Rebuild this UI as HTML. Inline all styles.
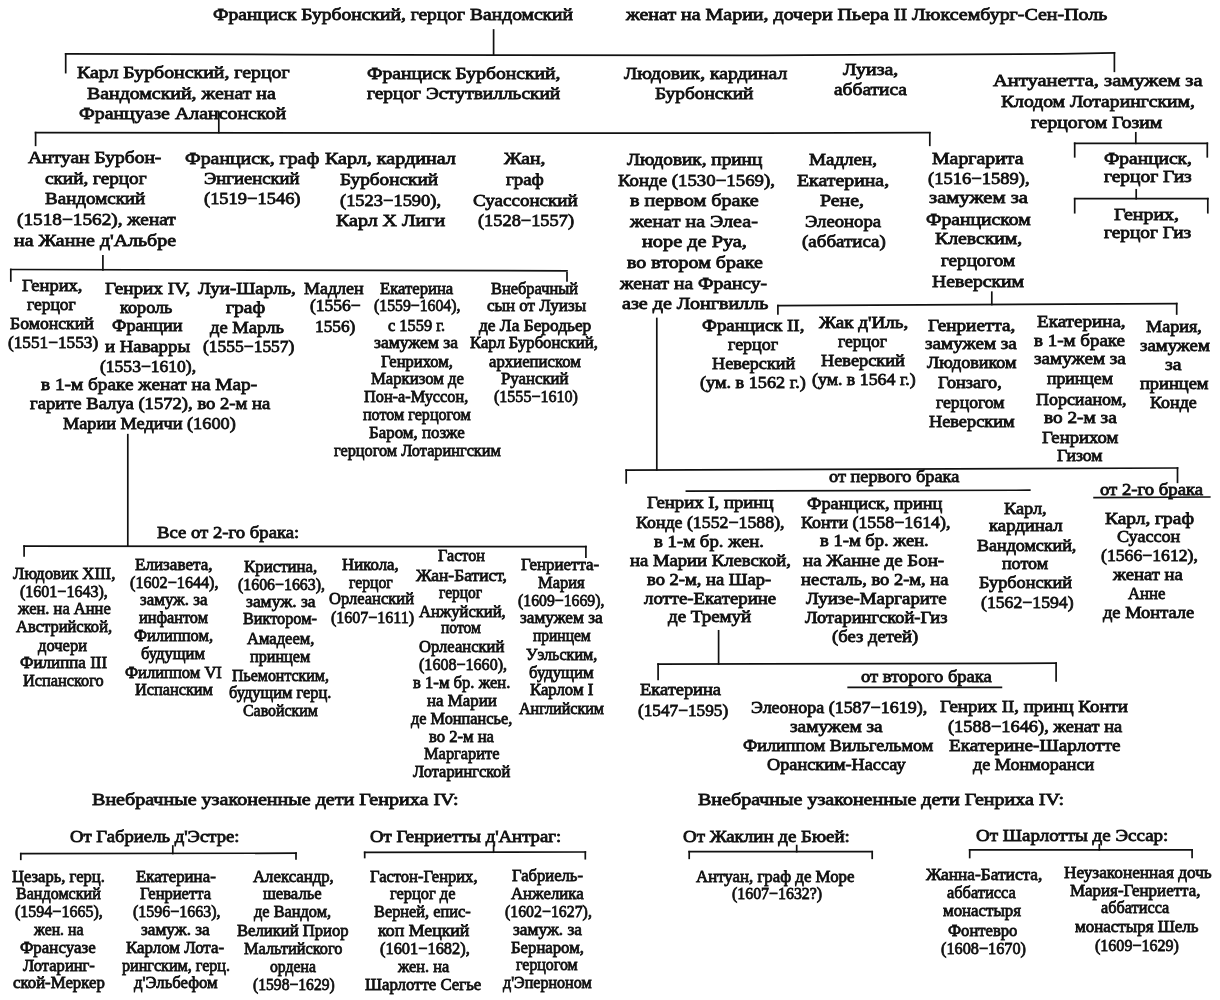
<!DOCTYPE html>
<html lang="ru"><head><meta charset="utf-8"><title>Бурбоны</title>
<style>
html,body{margin:0;padding:0;background:#fff;}
body{width:1220px;height:1000px;position:relative;overflow:hidden;filter:grayscale(1);}
.t{position:absolute;white-space:nowrap;font:normal 17.2px/20px 'Liberation Serif', serif;color:#111;transform-origin:0 0;-webkit-text-stroke:0.8px #111;}
svg{position:absolute;left:0;top:0;}
</style></head><body>
<div class="t" style="left:212.75px;top:5.30px;transform:scaleX(1.1373)">Франциск Бурбонский, герцог Вандомский</div>
<div class="t" style="left:626.02px;top:4.50px;transform:scaleX(1.1606)">женат на Марии, дочери Пьера II Люксембург-Сен-Поль</div>
<div class="t" style="left:76.66px;top:62.50px;transform:scaleX(1.1548)">Карл Бурбонский, герцог</div>
<div class="t" style="left:86.86px;top:83.60px;transform:scaleX(1.1548)">Вандомский, женат на</div>
<div class="t" style="left:79.26px;top:103.90px;transform:scaleX(1.1567)">Француазе Алансонской</div>
<div class="t" style="left:367.06px;top:63.60px;transform:scaleX(1.1405)">Франциск Бурбонский,</div>
<div class="t" style="left:367.05px;top:84.00px;transform:scaleX(1.1284)">герцог Эстутвилльский</div>
<div class="t" style="left:623.86px;top:63.60px;transform:scaleX(1.1428)">Людовик, кардинал</div>
<div class="t" style="left:655.05px;top:84.00px;transform:scaleX(1.1243)">Бурбонский</div>
<div class="t" style="left:843.16px;top:59.80px;transform:scaleX(1.1588)">Луиза,</div>
<div class="t" style="left:833.75px;top:80.00px;transform:scaleX(1.1302)">аббатиса</div>
<div class="t" style="left:993.08px;top:71.30px;transform:scaleX(1.1924)">Антуанетта, замужем за</div>
<div class="t" style="left:1000.66px;top:92.30px;transform:scaleX(1.1424)">Клодом Лотарингским,</div>
<div class="t" style="left:1031.16px;top:112.70px;transform:scaleX(1.1426)">герцогом Гозим</div>
<div class="t" style="left:28.45px;top:148.10px;transform:scaleX(1.1373)">Антуан Бурбон-</div>
<div class="t" style="left:44.95px;top:169.00px;transform:scaleX(1.1178)">ский, герцог</div>
<div class="t" style="left:44.94px;top:189.30px;transform:scaleX(1.1069)">Вандомский</div>
<div class="t" style="left:16.95px;top:210.40px;transform:scaleX(1.1200)">(1518−1562), женат</div>
<div class="t" style="left:13.66px;top:230.70px;transform:scaleX(1.1601)">на Жанне д'Альбре</div>
<div class="t" style="left:184.66px;top:148.50px;transform:scaleX(1.1535)">Франциск, граф</div>
<div class="t" style="left:203.73px;top:169.00px;transform:scaleX(1.0847)">Энгиенский</div>
<div class="t" style="left:203.73px;top:189.30px;transform:scaleX(1.0737)">(1519−1546)</div>
<div class="t" style="left:324.77px;top:149.40px;transform:scaleX(1.1677)">Карл, кардинал</div>
<div class="t" style="left:340.45px;top:169.70px;transform:scaleX(1.1198)">Бурбонский</div>
<div class="t" style="left:340.03px;top:190.80px;transform:scaleX(1.0730)">(1523−1590),</div>
<div class="t" style="left:335.66px;top:211.10px;transform:scaleX(1.1617)">Карл X Лиги</div>
<div class="t" style="left:503.96px;top:149.40px;transform:scaleX(1.1449)">Жан,</div>
<div class="t" style="left:505.94px;top:169.70px;transform:scaleX(1.1006)">граф</div>
<div class="t" style="left:473.44px;top:190.80px;transform:scaleX(1.1088)">Суассонский</div>
<div class="t" style="left:478.43px;top:211.10px;transform:scaleX(1.0682)">(1528−1557)</div>
<div class="t" style="left:627.15px;top:149.90px;transform:scaleX(1.1212)">Людовик, принц</div>
<div class="t" style="left:618.24px;top:171.00px;transform:scaleX(1.0956)">Конде (1530−1569),</div>
<div class="t" style="left:630.47px;top:191.30px;transform:scaleX(1.1725)">в первом браке</div>
<div class="t" style="left:630.14px;top:211.70px;transform:scaleX(1.1680)">женат на Элеа-</div>
<div class="t" style="left:642.37px;top:232.00px;transform:scaleX(1.1809)">норе де Руа,</div>
<div class="t" style="left:627.16px;top:252.50px;transform:scaleX(1.1610)">во втором браке</div>
<div class="t" style="left:619.89px;top:273.50px;transform:scaleX(1.1371)">женат на Франсу-</div>
<div class="t" style="left:622.07px;top:293.90px;transform:scaleX(1.1666)">азе де Лонгвилль</div>
<div class="t" style="left:808.84px;top:149.90px;transform:scaleX(1.1090)">Мадлен,</div>
<div class="t" style="left:797.46px;top:171.00px;transform:scaleX(1.1540)">Екатерина,</div>
<div class="t" style="left:820.26px;top:191.30px;transform:scaleX(1.1532)">Рене,</div>
<div class="t" style="left:805.04px;top:211.70px;transform:scaleX(1.0885)">Элеонора</div>
<div class="t" style="left:802.44px;top:232.00px;transform:scaleX(1.1039)">(аббатиса)</div>
<div class="t" style="left:932.06px;top:148.60px;transform:scaleX(1.1529)">Маргарита</div>
<div class="t" style="left:927.73px;top:169.00px;transform:scaleX(1.0783)">(1516−1589),</div>
<div class="t" style="left:929.48px;top:188.30px;transform:scaleX(1.1995)">замужем за</div>
<div class="t" style="left:926.26px;top:209.60px;transform:scaleX(1.1419)">Франциском</div>
<div class="t" style="left:934.56px;top:229.40px;transform:scaleX(1.1458)">Клевским,</div>
<div class="t" style="left:940.74px;top:251.40px;transform:scaleX(1.1122)">герцогом</div>
<div class="t" style="left:931.96px;top:272.00px;transform:scaleX(1.1458)">Неверским</div>
<div class="t" style="left:1103.55px;top:148.60px;transform:scaleX(1.1321)">Франциск,</div>
<div class="t" style="left:1103.55px;top:167.20px;transform:scaleX(1.1330)">герцог Гиз</div>
<div class="t" style="left:1113.76px;top:205.30px;transform:scaleX(1.1582)">Генрих,</div>
<div class="t" style="left:1104.05px;top:223.10px;transform:scaleX(1.1266)">герцог Гиз</div>
<div class="t" style="left:22.03px;top:275.60px;transform:scaleX(1.0770)">Генрих,</div>
<div class="t" style="left:27.11px;top:294.60px;transform:scaleX(1.0177)">герцог</div>
<div class="t" style="left:10.11px;top:313.70px;transform:scaleX(1.0308)">Бомонский</div>
<div class="t" style="left:8.00px;top:332.80px;transform:scaleX(1.0026)">(1551−1553)</div>
<div class="t" style="left:104.65px;top:278.60px;transform:scaleX(1.1177)">Генрих IV,</div>
<div class="t" style="left:119.82px;top:298.00px;transform:scaleX(1.0593)">король</div>
<div class="t" style="left:112.22px;top:316.20px;transform:scaleX(1.0596)">Франции</div>
<div class="t" style="left:105.14px;top:337.10px;transform:scaleX(1.0931)">и Наварры</div>
<div class="t" style="left:100.01px;top:356.90px;transform:scaleX(1.0202)">(1553−1610),</div>
<div class="t" style="left:41.15px;top:374.70px;transform:scaleX(1.1223)">в 1-м браке женат на Мар-</div>
<div class="t" style="left:29.63px;top:394.30px;transform:scaleX(1.0839)">гарите Валуа (1572), во 2-м на</div>
<div class="t" style="left:63.42px;top:413.90px;transform:scaleX(1.0625)">Марии Медичи (1600)</div>
<div class="t" style="left:198.14px;top:278.60px;transform:scaleX(1.1009)">Луи-Шарль,</div>
<div class="t" style="left:226.16px;top:298.00px;transform:scaleX(1.1377)">граф</div>
<div class="t" style="left:210.13px;top:317.50px;transform:scaleX(1.0804)">де Марль</div>
<div class="t" style="left:203.21px;top:337.10px;transform:scaleX(1.0170)">(1555−1557)</div>
<div class="t" style="left:304.42px;top:278.60px;transform:scaleX(1.0440)">Мадлен</div>
<div class="t" style="left:310.21px;top:296.40px;transform:scaleX(1.0181)">(1556−</div>
<div class="t" style="left:314.80px;top:316.70px;transform:scaleX(1.0057)">1556)</div>
<div class="t" style="left:379.89px;top:278.60px;transform:scaleX(0.9700)">Екатерина</div>
<div class="t" style="left:374.27px;top:296.40px;transform:scaleX(0.9177)">(1559−1604),</div>
<div class="t" style="left:388.18px;top:315.70px;transform:scaleX(0.9536)">с 1559 г.</div>
<div class="t" style="left:374.31px;top:332.80px;transform:scaleX(1.0167)">замужем за</div>
<div class="t" style="left:380.59px;top:351.80px;transform:scaleX(0.9637)">Генрихом,</div>
<div class="t" style="left:371.19px;top:369.10px;transform:scaleX(0.9718)">Маркизом де</div>
<div class="t" style="left:363.58px;top:387.40px;transform:scaleX(0.9469)">Пон-а-Муссон,</div>
<div class="t" style="left:362.78px;top:405.20px;transform:scaleX(0.9377)">потом герцогом</div>
<div class="t" style="left:368.69px;top:423.00px;transform:scaleX(0.9843)">Баром, позже</div>
<div class="t" style="left:333.58px;top:440.80px;transform:scaleX(0.9482)">герцогом Лотарингским</div>
<div class="t" style="left:491.18px;top:278.60px;transform:scaleX(0.9547)">Внебрачный</div>
<div class="t" style="left:487.40px;top:296.40px;transform:scaleX(0.9886)">сын от Луизы</div>
<div class="t" style="left:479.00px;top:315.70px;transform:scaleX(1.0094)">де Ла Беродьер</div>
<div class="t" style="left:469.59px;top:332.80px;transform:scaleX(0.9687)">Карл Бурбонский,</div>
<div class="t" style="left:488.59px;top:351.80px;transform:scaleX(0.9747)">архиеписком</div>
<div class="t" style="left:501.29px;top:369.10px;transform:scaleX(0.9766)">Руанский</div>
<div class="t" style="left:493.67px;top:387.40px;transform:scaleX(0.9326)">(1555−1610)</div>
<div class="t" style="left:702.14px;top:316.20px;transform:scaleX(1.0956)">Франциск II,</div>
<div class="t" style="left:727.52px;top:335.30px;transform:scaleX(1.0445)">герцог</div>
<div class="t" style="left:712.22px;top:354.40px;transform:scaleX(1.0586)">Неверский</div>
<div class="t" style="left:700.32px;top:373.40px;transform:scaleX(1.0606)">(ум. в 1562 г.)</div>
<div class="t" style="left:818.85px;top:312.90px;transform:scaleX(1.1125)">Жак д'Иль,</div>
<div class="t" style="left:838.01px;top:331.70px;transform:scaleX(1.0198)">герцог</div>
<div class="t" style="left:821.03px;top:350.70px;transform:scaleX(1.0649)">Неверский</div>
<div class="t" style="left:811.52px;top:370.30px;transform:scaleX(1.0385)">(ум. в 1564 г.)</div>
<div class="t" style="left:927.95px;top:316.10px;transform:scaleX(1.1193)">Генриетта,</div>
<div class="t" style="left:925.34px;top:334.40px;transform:scaleX(1.1123)">замужем за</div>
<div class="t" style="left:926.62px;top:353.30px;transform:scaleX(1.0545)">Людовиком</div>
<div class="t" style="left:938.42px;top:372.70px;transform:scaleX(1.0602)">Гонзаго,</div>
<div class="t" style="left:935.81px;top:392.50px;transform:scaleX(1.0293)">герцогом</div>
<div class="t" style="left:929.33px;top:412.20px;transform:scaleX(1.0646)">Неверским</div>
<div class="t" style="left:1036.84px;top:312.10px;transform:scaleX(1.1104)">Екатерина,</div>
<div class="t" style="left:1034.24px;top:330.50px;transform:scaleX(1.1042)">в 1-м браке</div>
<div class="t" style="left:1034.24px;top:348.90px;transform:scaleX(1.1123)">замужем за</div>
<div class="t" style="left:1047.31px;top:368.50px;transform:scaleX(1.0322)">принцем</div>
<div class="t" style="left:1035.52px;top:389.90px;transform:scaleX(1.0436)">Порсианом,</div>
<div class="t" style="left:1044.15px;top:407.50px;transform:scaleX(1.1217)">во 2-м за</div>
<div class="t" style="left:1042.03px;top:428.00px;transform:scaleX(1.0863)">Генрихом</div>
<div class="t" style="left:1057.31px;top:446.30px;transform:scaleX(1.0258)">Гизом</div>
<div class="t" style="left:1145.62px;top:317.40px;transform:scaleX(1.0560)">Мария,</div>
<div class="t" style="left:1140.44px;top:335.70px;transform:scaleX(1.0936)">замужем</div>
<div class="t" style="left:1165.36px;top:354.90px;transform:scaleX(1.1482)">за</div>
<div class="t" style="left:1140.43px;top:373.80px;transform:scaleX(1.0723)">принцем</div>
<div class="t" style="left:1150.12px;top:392.50px;transform:scaleX(1.0448)">Конде</div>
<div class="t" style="left:828.63px;top:467.20px;transform:scaleX(1.0651)">от первого брака</div>
<div class="t" style="left:1099.74px;top:480.40px;transform:scaleX(1.0891)">от 2-го брака</div>
<div class="t" style="left:647.44px;top:493.30px;transform:scaleX(1.0915)">Генрих I, принц</div>
<div class="t" style="left:636.41px;top:512.90px;transform:scaleX(1.0371)">Конде (1552−1588),</div>
<div class="t" style="left:654.14px;top:531.90px;transform:scaleX(1.0939)">в 1-м бр. жен.</div>
<div class="t" style="left:630.03px;top:551.00px;transform:scaleX(1.0854)">на Марии Клевской,</div>
<div class="t" style="left:646.53px;top:570.00px;transform:scaleX(1.0787)">во 2-м, на Шар-</div>
<div class="t" style="left:644.04px;top:588.60px;transform:scaleX(1.0933)">лотте-Екатерине</div>
<div class="t" style="left:668.14px;top:607.40px;transform:scaleX(1.1039)">де Тремуй</div>
<div class="t" style="left:807.12px;top:494.00px;transform:scaleX(1.0621)">Франциск, принц</div>
<div class="t" style="left:801.22px;top:512.60px;transform:scaleX(1.0410)">Конти (1558−1614),</div>
<div class="t" style="left:819.83px;top:530.90px;transform:scaleX(1.0810)">в 1-м бр. жен.</div>
<div class="t" style="left:803.34px;top:551.20px;transform:scaleX(1.1016)">на Жанне де Бон-</div>
<div class="t" style="left:800.73px;top:570.30px;transform:scaleX(1.0770)">несталь, во 2-м, на</div>
<div class="t" style="left:805.84px;top:589.40px;transform:scaleX(1.0954)">Луизе-Маргарите</div>
<div class="t" style="left:804.53px;top:608.40px;transform:scaleX(1.0726)">Лотарингской-Гиз</div>
<div class="t" style="left:832.13px;top:626.60px;transform:scaleX(1.0831)">(без детей)</div>
<div class="t" style="left:1004.03px;top:498.50px;transform:scaleX(1.0638)">Карл,</div>
<div class="t" style="left:988.84px;top:515.70px;transform:scaleX(1.0900)">кардинал</div>
<div class="t" style="left:976.62px;top:536.00px;transform:scaleX(1.0477)">Вандомский,</div>
<div class="t" style="left:1001.52px;top:553.80px;transform:scaleX(1.0464)">потом</div>
<div class="t" style="left:979.12px;top:572.80px;transform:scaleX(1.0619)">Бурбонский</div>
<div class="t" style="left:981.21px;top:593.20px;transform:scaleX(1.0304)">(1562−1594)</div>
<div class="t" style="left:1104.75px;top:508.60px;transform:scaleX(1.1287)">Карл, граф</div>
<div class="t" style="left:1116.62px;top:526.80px;transform:scaleX(1.0514)">Суассон</div>
<div class="t" style="left:1101.21px;top:546.40px;transform:scaleX(1.0286)">(1566−1612),</div>
<div class="t" style="left:1112.82px;top:564.60px;transform:scaleX(1.0848)">женат на</div>
<div class="t" style="left:1128.49px;top:584.20px;transform:scaleX(0.9720)">Анне</div>
<div class="t" style="left:1102.63px;top:602.50px;transform:scaleX(1.0720)">де Монтале</div>
<div class="t" style="left:639.73px;top:680.40px;transform:scaleX(1.0730)">Екатерина</div>
<div class="t" style="left:637.60px;top:700.70px;transform:scaleX(1.0026)">(1547−1595)</div>
<div class="t" style="left:861.33px;top:667.30px;transform:scaleX(1.0802)">от второго брака</div>
<div class="t" style="left:750.72px;top:697.80px;transform:scaleX(1.0461)">Элеонора (1587−1619),</div>
<div class="t" style="left:790.15px;top:716.80px;transform:scaleX(1.1230)">замужем за</div>
<div class="t" style="left:742.62px;top:735.90px;transform:scaleX(1.0542)">Филиппом Вильгельмом</div>
<div class="t" style="left:767.22px;top:754.90px;transform:scaleX(1.0617)">Оранским-Нассау</div>
<div class="t" style="left:940.44px;top:697.40px;transform:scaleX(1.0993)">Генрих II, принц Конти</div>
<div class="t" style="left:948.03px;top:716.80px;transform:scaleX(1.0698)">(1588−1646), женат на</div>
<div class="t" style="left:948.54px;top:735.90px;transform:scaleX(1.1123)">Екатерине-Шарлотте</div>
<div class="t" style="left:972.72px;top:754.90px;transform:scaleX(1.0542)">де Монморанси</div>
<div class="t" style="left:156.74px;top:523.00px;transform:scaleX(1.0886)">Все от 2-го брака:</div>
<div class="t" style="left:13.09px;top:563.70px;transform:scaleX(0.9772)">Людовик XIII,</div>
<div class="t" style="left:20.17px;top:581.50px;transform:scaleX(0.9315)">(1601−1643),</div>
<div class="t" style="left:17.84px;top:598.80px;transform:scaleX(0.9595)">жен. на Анне</div>
<div class="t" style="left:15.58px;top:616.60px;transform:scaleX(0.9615)">Австрийской,</div>
<div class="t" style="left:38.48px;top:635.70px;transform:scaleX(0.9620)">дочери</div>
<div class="t" style="left:20.20px;top:653.00px;transform:scaleX(0.9897)">Филиппа III</div>
<div class="t" style="left:23.28px;top:670.70px;transform:scaleX(0.9485)">Испанского</div>
<div class="t" style="left:134.60px;top:554.80px;transform:scaleX(0.9938)">Елизавета,</div>
<div class="t" style="left:129.98px;top:572.60px;transform:scaleX(0.9399)">(1602−1644),</div>
<div class="t" style="left:140.19px;top:589.60px;transform:scaleX(0.9839)">замуж. за</div>
<div class="t" style="left:138.88px;top:608.20px;transform:scaleX(0.9483)">инфантом</div>
<div class="t" style="left:133.78px;top:626.00px;transform:scaleX(0.9603)">Филиппом,</div>
<div class="t" style="left:141.39px;top:644.10px;transform:scaleX(0.9647)">будущим</div>
<div class="t" style="left:124.89px;top:662.60px;transform:scaleX(0.9636)">Филиппом VI</div>
<div class="t" style="left:134.58px;top:679.60px;transform:scaleX(0.9489)">Испанским</div>
<div class="t" style="left:244.49px;top:557.30px;transform:scaleX(0.9798)">Кристина,</div>
<div class="t" style="left:237.67px;top:575.10px;transform:scaleX(0.9230)">(1606−1663),</div>
<div class="t" style="left:245.81px;top:592.20px;transform:scaleX(1.0141)">замуж. за</div>
<div class="t" style="left:243.28px;top:609.40px;transform:scaleX(0.9457)">Виктором-</div>
<div class="t" style="left:247.08px;top:628.50px;transform:scaleX(0.9620)">Амадеем,</div>
<div class="t" style="left:250.38px;top:647.40px;transform:scaleX(0.9411)">принцем</div>
<div class="t" style="left:231.77px;top:665.70px;transform:scaleX(0.9265)">Пьемонтским,</div>
<div class="t" style="left:229.28px;top:682.90px;transform:scaleX(0.9564)">будущим герц.</div>
<div class="t" style="left:243.27px;top:700.70px;transform:scaleX(0.9248)">Савойским</div>
<div class="t" style="left:342.39px;top:554.80px;transform:scaleX(0.9785)">Никола,</div>
<div class="t" style="left:348.67px;top:572.60px;transform:scaleX(0.9149)">герцог</div>
<div class="t" style="left:329.18px;top:589.10px;transform:scaleX(0.9618)">Орлеанский</div>
<div class="t" style="left:330.87px;top:608.20px;transform:scaleX(0.9303)">(1607−1611)</div>
<div class="t" style="left:438.38px;top:546.40px;transform:scaleX(0.9436)">Гастон</div>
<div class="t" style="left:416.11px;top:565.70px;transform:scaleX(1.0175)">Жан-Батист,</div>
<div class="t" style="left:439.46px;top:582.80px;transform:scaleX(0.9026)">герцог</div>
<div class="t" style="left:419.09px;top:601.80px;transform:scaleX(0.9640)">Анжуйский,</div>
<div class="t" style="left:441.46px;top:618.30px;transform:scaleX(0.9061)">потом</div>
<div class="t" style="left:418.59px;top:637.20px;transform:scaleX(0.9652)">Орлеанский</div>
<div class="t" style="left:418.57px;top:655.00px;transform:scaleX(0.9346)">(1608−1660),</div>
<div class="t" style="left:413.49px;top:673.30px;transform:scaleX(0.9682)">в 1-м бр. жен.</div>
<div class="t" style="left:427.49px;top:691.10px;transform:scaleX(0.9829)">на Марии</div>
<div class="t" style="left:410.98px;top:708.90px;transform:scaleX(0.9484)">де Монпансье,</div>
<div class="t" style="left:428.79px;top:726.70px;transform:scaleX(0.9667)">во 2-м на</div>
<div class="t" style="left:423.68px;top:744.40px;transform:scaleX(0.9553)">Маргарите</div>
<div class="t" style="left:413.48px;top:762.20px;transform:scaleX(0.9553)">Лотарингской</div>
<div class="t" style="left:520.69px;top:554.80px;transform:scaleX(0.9847)">Генриетта-</div>
<div class="t" style="left:537.98px;top:573.40px;transform:scaleX(0.9595)">Мария</div>
<div class="t" style="left:518.17px;top:591.10px;transform:scaleX(0.9177)">(1609−1669),</div>
<div class="t" style="left:519.50px;top:608.20px;transform:scaleX(1.0012)">замужем за</div>
<div class="t" style="left:533.36px;top:626.00px;transform:scaleX(0.9026)">принцем</div>
<div class="t" style="left:525.77px;top:645.30px;transform:scaleX(0.9372)">Уэльским,</div>
<div class="t" style="left:528.89px;top:662.60px;transform:scaleX(0.9751)">будущим</div>
<div class="t" style="left:529.59px;top:680.40px;transform:scaleX(0.9735)">Карлом I</div>
<div class="t" style="left:518.67px;top:698.70px;transform:scaleX(0.9364)">Английским</div>
<div class="t" style="left:92.47px;top:790.40px;transform:scaleX(1.1669)">Внебрачные узаконенные дети Генриха IV:</div>
<div class="t" style="left:70.34px;top:826.50px;transform:scaleX(1.0880)">От Габриель д'Эстре:</div>
<div class="t" style="left:370.24px;top:827.00px;transform:scaleX(1.0913)">От Генриетты д'Антраг:</div>
<div class="t" style="left:11.79px;top:866.60px;transform:scaleX(0.9645)">Цезарь, герц.</div>
<div class="t" style="left:16.17px;top:884.40px;transform:scaleX(0.9358)">Вандомский</div>
<div class="t" style="left:15.07px;top:902.20px;transform:scaleX(0.9315)">(1594−1665),</div>
<div class="t" style="left:33.78px;top:920.00px;transform:scaleX(0.9168)">жен. на</div>
<div class="t" style="left:20.19px;top:937.80px;transform:scaleX(0.9848)">Франсуазе</div>
<div class="t" style="left:22.78px;top:955.50px;transform:scaleX(0.9619)">Лотаринг-</div>
<div class="t" style="left:12.59px;top:973.30px;transform:scaleX(0.9761)">ской-Меркер</div>
<div class="t" style="left:135.59px;top:866.60px;transform:scaleX(0.9814)">Екатерина-</div>
<div class="t" style="left:139.69px;top:884.40px;transform:scaleX(0.9625)">Генриетта</div>
<div class="t" style="left:133.07px;top:902.20px;transform:scaleX(0.9283)">(1596−1663),</div>
<div class="t" style="left:141.40px;top:920.00px;transform:scaleX(1.0026)">замуж. за</div>
<div class="t" style="left:126.19px;top:937.80px;transform:scaleX(0.9812)">Карлом Лота-</div>
<div class="t" style="left:121.88px;top:955.50px;transform:scaleX(0.9375)">рингским, герц.</div>
<div class="t" style="left:133.79px;top:973.30px;transform:scaleX(0.9731)">д'Эльбефом</div>
<div class="t" style="left:253.29px;top:867.30px;transform:scaleX(0.9755)">Александр,</div>
<div class="t" style="left:263.39px;top:884.40px;transform:scaleX(0.9685)">шевалье</div>
<div class="t" style="left:254.48px;top:902.20px;transform:scaleX(0.9504)">де Вандом,</div>
<div class="t" style="left:236.79px;top:920.90px;transform:scaleX(0.9679)">Великий Приор</div>
<div class="t" style="left:243.58px;top:938.70px;transform:scaleX(0.9494)">Мальтийского</div>
<div class="t" style="left:269.77px;top:956.50px;transform:scaleX(0.9156)">ордена</div>
<div class="t" style="left:253.26px;top:974.80px;transform:scaleX(0.9092)">(1598−1629)</div>
<div class="t" style="left:370.19px;top:867.30px;transform:scaleX(0.9625)">Гастон-Генрих,</div>
<div class="t" style="left:389.98px;top:884.40px;transform:scaleX(0.9551)">герцог де</div>
<div class="t" style="left:373.98px;top:902.20px;transform:scaleX(0.9518)">Верней, епис-</div>
<div class="t" style="left:377.81px;top:920.90px;transform:scaleX(1.0361)">коп Мецкий</div>
<div class="t" style="left:380.28px;top:938.70px;transform:scaleX(0.9536)">(1601−1682),</div>
<div class="t" style="left:397.83px;top:956.50px;transform:scaleX(0.9507)">жен. на</div>
<div class="t" style="left:364.59px;top:974.80px;transform:scaleX(0.9766)">Шарлотте Сегье</div>
<div class="t" style="left:512.39px;top:866.20px;transform:scaleX(0.9662)">Габриель-</div>
<div class="t" style="left:510.59px;top:884.20px;transform:scaleX(0.9768)">Анжелика</div>
<div class="t" style="left:504.67px;top:902.20px;transform:scaleX(0.9220)">(1602−1627),</div>
<div class="t" style="left:512.80px;top:920.20px;transform:scaleX(1.0069)">замуж. за</div>
<div class="t" style="left:511.39px;top:938.20px;transform:scaleX(0.9728)">Бернаром,</div>
<div class="t" style="left:515.97px;top:955.30px;transform:scaleX(0.9256)">герцогом</div>
<div class="t" style="left:502.87px;top:973.30px;transform:scaleX(0.9356)">д'Эперноном</div>
<div class="t" style="left:698.07px;top:790.40px;transform:scaleX(1.1650)">Внебрачные узаконенные дети Генриха IV:</div>
<div class="t" style="left:682.84px;top:826.50px;transform:scaleX(1.1020)">От Жаклин де Бюей:</div>
<div class="t" style="left:976.04px;top:826.00px;transform:scaleX(1.1066)">От Шарлотты де Эссар:</div>
<div class="t" style="left:696.49px;top:867.20px;transform:scaleX(0.9797)">Антуан, граф де Море</div>
<div class="t" style="left:731.57px;top:884.40px;transform:scaleX(0.9242)">(1607−1632?)</div>
<div class="t" style="left:925.60px;top:865.40px;transform:scaleX(1.0087)">Жанна-Батиста,</div>
<div class="t" style="left:947.18px;top:883.20px;transform:scaleX(0.9539)">аббатисса</div>
<div class="t" style="left:943.39px;top:901.00px;transform:scaleX(0.9804)">монастыря</div>
<div class="t" style="left:947.99px;top:920.90px;transform:scaleX(0.9664)">Фонтевро</div>
<div class="t" style="left:940.88px;top:938.70px;transform:scaleX(0.9459)">(1608−1670)</div>
<div class="t" style="left:1064.10px;top:862.80px;transform:scaleX(1.0041)">Неузаконенная дочь</div>
<div class="t" style="left:1070.49px;top:880.60px;transform:scaleX(0.9852)">Мария-Генриетта,</div>
<div class="t" style="left:1101.48px;top:898.40px;transform:scaleX(0.9471)">аббатисса</div>
<div class="t" style="left:1075.09px;top:917.10px;transform:scaleX(0.9871)">монастыря Шель</div>
<div class="t" style="left:1095.37px;top:936.20px;transform:scaleX(0.9326)">(1609−1629)</div>
<svg width="1220" height="1000" viewBox="0 0 1220 1000"><g stroke="#111" stroke-width="1.7" stroke-linecap="square" fill="none">
<line x1="493.6" y1="30" x2="493.6" y2="55"/>
<polyline points="65.7,53.9 300,54.6 500,55.1 740,55.4 900,54.7 1060,53.8 1114.4,52.8"/>
<line x1="65.7" y1="53.9" x2="65.7" y2="72.6"/>
<line x1="1114.4" y1="52.8" x2="1114.4" y2="71.3"/>
<line x1="218.8" y1="112" x2="218.8" y2="132.5"/>
<polyline points="35.6,132.7 460,133.1 760,133.1 929.8,132.7"/>
<line x1="35.6" y1="132.6" x2="35.6" y2="145.3"/>
<line x1="929.8" y1="132.8" x2="929.8" y2="145.3"/>
<line x1="1135.8" y1="132.8" x2="1135.8" y2="143.3"/>
<line x1="1074.7" y1="143.3" x2="1207.3" y2="143.3"/>
<line x1="1074.7" y1="143.3" x2="1074.7" y2="156.8"/>
<line x1="1207.3" y1="143.3" x2="1207.3" y2="156.8"/>
<line x1="1136.2" y1="189.8" x2="1136.2" y2="198.7"/>
<line x1="1074.7" y1="198.7" x2="1207.8" y2="198.7"/>
<line x1="1074.7" y1="198.7" x2="1074.7" y2="212.7"/>
<line x1="1207.8" y1="198.7" x2="1207.8" y2="212.7"/>
<line x1="102.9" y1="255.9" x2="102.9" y2="270"/>
<line x1="10.8" y1="269.5" x2="567" y2="270.8"/>
<line x1="10.8" y1="269.5" x2="10.8" y2="281"/>
<line x1="567" y1="272.8" x2="567" y2="281"/>
<line x1="127.8" y1="434.7" x2="127.8" y2="546"/>
<line x1="24.1" y1="546.2" x2="585.9" y2="546.6"/>
<line x1="24.1" y1="546.2" x2="24.1" y2="555.8"/>
<line x1="585.9" y1="546.6" x2="585.9" y2="557.1"/>
<line x1="991.8" y1="292.2" x2="991.8" y2="304.5"/>
<line x1="777.9" y1="305.6" x2="1176.7" y2="303.6"/>
<line x1="777.9" y1="305.6" x2="777.9" y2="314"/>
<line x1="1176.7" y1="303.6" x2="1176.7" y2="314"/>
<line x1="656.8" y1="318.5" x2="656.8" y2="470"/>
<line x1="626.2" y1="470.2" x2="1177.5" y2="468"/>
<line x1="626.2" y1="470.2" x2="626.2" y2="482.9"/>
<line x1="1177.5" y1="468" x2="1177.5" y2="482.3"/>
<line x1="686.4" y1="491.1" x2="1029.8" y2="490.2"/>
<line x1="1094.1" y1="497.6" x2="1209.8" y2="497"/>
<line x1="718.6" y1="630.8" x2="718.6" y2="664"/>
<line x1="658.1" y1="664.1" x2="1056.1" y2="663.2"/>
<line x1="658.1" y1="664.1" x2="658.1" y2="679.4"/>
<line x1="1056.1" y1="663.2" x2="1056.1" y2="681"/>
<line x1="848.2" y1="687.3" x2="1001.4" y2="687.3"/>
<line x1="20.8" y1="853.7" x2="296" y2="853.2"/>
<line x1="20.8" y1="853.7" x2="20.8" y2="859.3"/>
<line x1="296" y1="853.2" x2="296" y2="858.8"/>
<line x1="172.8" y1="846" x2="172.8" y2="853.5"/>
<line x1="364.7" y1="852.4" x2="585.3" y2="852"/>
<line x1="364.7" y1="852.4" x2="364.7" y2="857.5"/>
<line x1="585.3" y1="852" x2="585.3" y2="858.7"/>
<line x1="493.6" y1="845.5" x2="493.6" y2="852.2"/>
<line x1="689.2" y1="851.7" x2="872.2" y2="851.7"/>
<line x1="689.2" y1="851.7" x2="689.2" y2="858.3"/>
<line x1="872.2" y1="851.7" x2="872.2" y2="858.3"/>
<line x1="796.7" y1="845.6" x2="796.7" y2="851.7"/>
<line x1="969.7" y1="849.9" x2="1192.1" y2="849.9"/>
<line x1="969.7" y1="849.9" x2="969.7" y2="857.5"/>
<line x1="1192.1" y1="849.9" x2="1192.1" y2="857.5"/>
<line x1="1099.3" y1="844.8" x2="1099.3" y2="849.9"/>
</g></svg>
</body></html>
